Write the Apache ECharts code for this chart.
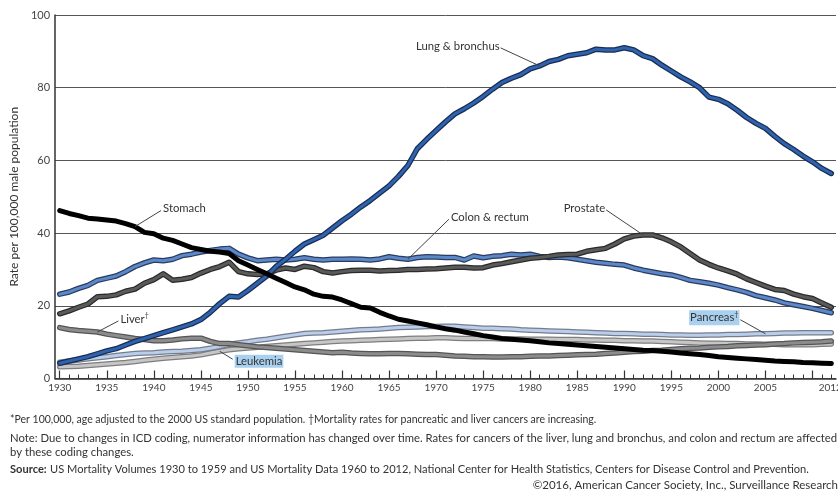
<!DOCTYPE html>
<html><head><meta charset="utf-8">
<script src="https://cdn.jsdelivr.net/npm/echarts@6/dist/echarts.min.js"></script>
<style>html,body{margin:0;padding:0;background:#fff}#c{width:838px;height:494px}</style>
</head><body><div id="c"></div>
<script>
const years = [1930,1931,1932,1933,1934,1935,1936,1937,1938,1939,1940,1941,1942,1943,1944,1945,1946,1947,1948,1949,
1950,1951,1952,1953,1954,1955,1956,1957,1958,1959,1960,1961,1962,1963,1964,1965,1966,1967,1968,1969,
1970,1971,1972,1973,1974,1975,1976,1977,1978,1979,1980,1981,1982,1983,1984,1985,1986,1987,1988,1989,
1990,1991,1992,1993,1994,1995,1996,1997,1998,1999,2000,2001,2002,2003,2004,2005,2006,2007,2008,2009,
2010,2011,2012];

// year labels printed under the axis
const xTickLabels = [1930,1935,1940,1945,1950,1955,1960,1965,1970,1975,1980,1985,1990,1995,2000,2005,2012];
const yTicks = [0, 20, 40, 60, 80, 100];

const lung = [4.2,4.8,5.4,6.0,6.8,7.6,8.2,9.2,10.2,11.0,11.8,12.6,13.4,14.2,15.0,16.2,18.2,20.6,22.6,22.4,
24.2,26.2,28.2,30.8,32.8,35.0,37.0,38.2,39.4,41.4,43.4,45.2,47.2,49.0,51.0,53.0,55.6,58.6,63.2,65.8,
68.2,70.6,72.8,74.2,75.8,77.6,79.6,81.4,82.6,83.6,85.2,86.0,87.2,87.8,88.8,89.2,89.6,90.6,90.4,90.4,
91.0,90.4,88.8,88.0,86.2,84.6,83.0,81.6,80.0,77.4,76.8,75.6,73.8,71.8,70.2,68.8,66.6,64.6,63.0,61.2,
59.6,57.8,56.4];

const stomach = [46.2,45.4,44.8,44.1,43.9,43.6,43.3,42.6,41.8,40.2,39.8,38.6,38.0,37.0,36.0,35.5,35.0,34.8,34.4,32.4,
31.2,30.0,28.8,27.6,26.4,25.2,24.4,23.2,22.6,22.4,21.6,20.6,19.6,19.4,18.2,17.2,16.3,15.8,15.3,14.8,
14.2,13.7,13.3,12.8,12.3,11.8,11.4,11.0,10.8,10.6,10.4,10.1,9.8,9.6,9.4,9.2,9.0,8.8,8.6,8.4,
8.2,8.0,7.8,7.7,7.5,7.3,7.0,6.8,6.6,6.3,6.0,5.8,5.6,5.4,5.2,5.0,4.8,4.7,4.6,4.4,
4.3,4.2,4.1];

const colon = [23.2,23.8,24.8,25.6,27.0,27.6,28.2,29.4,30.8,31.8,32.6,32.4,32.8,33.8,34.2,34.8,35.2,35.6,35.8,34.2,
33.2,32.4,32.6,32.8,32.6,32.8,33.2,32.8,32.6,32.8,32.8,32.9,32.8,32.6,32.9,33.5,33.1,32.8,33.3,33.5,
33.4,33.3,33.3,32.6,33.7,33.2,33.6,33.8,34.2,34.0,34.2,33.6,33.3,33.4,33.2,32.8,32.4,32.0,31.7,31.4,
31.2,30.4,29.8,29.3,28.8,28.5,27.8,27.0,26.6,26.2,25.7,25.0,24.4,23.7,22.8,22.2,21.6,20.8,20.3,19.8,
19.3,18.7,18.1];

const prostate = [17.8,18.6,19.6,20.5,22.5,22.6,23.0,24.0,24.6,26.2,27.2,28.8,27.0,27.3,27.8,29.0,30.0,30.8,32.0,29.4,
28.8,28.6,28.8,29.8,30.4,30.0,30.9,30.5,29.4,29.0,29.4,29.7,29.8,29.8,29.6,29.7,29.8,30.0,30.0,30.1,
30.2,30.4,30.6,30.6,30.4,30.5,31.2,31.6,32.1,32.6,33.1,33.3,33.6,34.0,34.1,34.2,35.0,35.4,35.8,37.0,
38.4,39.2,39.5,39.5,38.7,37.6,36.2,34.4,32.6,31.4,30.4,29.6,28.7,27.4,26.4,25.4,24.5,24.2,23.2,22.5,
22.0,20.8,19.6];

const pancreas = [4.5,4.8,5.1,5.4,5.7,6.0,6.3,6.6,6.9,7.0,7.1,7.3,7.4,7.5,7.7,7.9,8.3,8.8,9.4,9.8,
10.1,10.5,10.8,11.2,11.6,12.0,12.4,12.5,12.6,12.8,13.0,13.2,13.4,13.5,13.6,13.8,14.0,14.1,14.2,14.3,
14.3,14.4,14.4,14.2,14.0,13.8,13.8,13.7,13.6,13.4,13.3,13.2,13.1,13.0,12.9,12.8,12.7,12.6,12.5,12.4,
12.4,12.3,12.2,12.2,12.1,12.0,12.0,11.9,11.9,12.0,12.0,12.1,12.1,12.2,12.3,12.3,12.4,12.5,12.5,12.6,
12.6,12.6,12.6];

const leukemia = [3.2,3.3,3.4,3.6,3.8,4.0,4.2,4.4,4.7,5.0,5.3,5.6,5.8,6.0,6.2,6.5,7.0,7.5,7.9,8.2,
8.4,8.6,8.8,9.0,9.2,9.4,9.6,9.8,10.0,10.2,10.3,10.4,10.5,10.6,10.7,10.8,10.9,11.0,11.1,11.1,
11.2,11.2,11.1,11.0,11.0,11.0,11.0,10.9,10.9,10.9,10.8,10.8,10.8,10.7,10.7,10.7,10.6,10.6,10.5,10.5,
10.4,10.4,10.3,10.3,10.2,10.1,10.0,9.9,9.8,9.7,9.7,9.6,9.6,9.5,9.5,9.4,9.4,9.3,9.3,9.3,
9.3,9.4,9.5];

const liver = [14.0,13.5,13.2,13.0,12.8,12.2,11.8,11.4,11.0,10.7,10.4,10.4,10.6,10.9,11.1,11.1,10.2,9.6,9.6,9.3,
9.0,8.7,8.5,8.3,8.1,7.9,7.7,7.5,7.3,7.1,7.2,7.0,6.9,6.8,6.8,6.9,6.9,6.8,6.7,6.6,
6.6,6.4,6.2,6.1,6.0,6.0,5.9,5.9,6.0,6.0,6.1,6.2,6.2,6.3,6.4,6.5,6.6,6.7,6.9,7.0,
7.2,7.4,7.5,7.7,7.8,8.0,8.2,8.3,8.4,8.6,8.7,8.8,9.0,9.1,9.2,9.3,9.5,9.6,9.8,9.9,
10.0,10.1,10.3];

const FONT = 'Lato, "Open Sans", sans-serif';
const AXFONT = '"Liberation Sans Narrow", Lato, sans-serif';
const TXT = '#333333';

const defs = [
  {name:'Leukemia', data:leukemia, core:'#c6c6c6', edge:'#7e7e7e', w:5.5, cw:3},
  {name:'Pancreas', data:pancreas, core:'#b9cdec', edge:'#767c8a', w:5.5, cw:3},
  {name:'Liver', data:liver, core:'#8c8c8c', edge:'#555555', w:5.5, cw:3},
  {name:'Colon & rectum', data:colon, core:'#5a88c8', edge:'#2b3b5e', w:5.5, cw:3},
  {name:'Prostate', data:prostate, core:'#5a5a5a', edge:'#2a2a2a', w:5.5, cw:3},
  {name:'Lung & bronchus', data:lung, core:'#2e63ae', edge:'#1a2c52', w:5.5, cw:3},
  {name:'Stomach', data:stomach, core:'#000000', edge:null, w:5, cw:5}
];

const series = [];
defs.forEach(d => {
  if (d.edge) series.push({type:'line', name:d.name+'-edge', data:d.data, symbol:'none', silent:true,
    lineStyle:{width:d.w, color:d.edge, join:'round', cap:'round'}});
  series.push({type:'line', name:d.name, data:d.data, symbol:'none', silent:true,
    lineStyle:{width:d.cw, color:d.core, join:'round', cap:'round'}});
});

const lastIdx = years.length - 1;
const lastLabel = xTickLabels[xTickLabels.length - 1];

const chart = echarts.init(document.getElementById('c'), null, {renderer:'canvas'});
chart.setOption({
  animation:false,
  backgroundColor:'#ffffff',
  grid:{left:49.5, right:2, top:15, bottom:115.5},
  xAxis:[{
    type:'category', data:years, boundaryGap:true,
    axisLine:{show:true, lineStyle:{color:'#333', width:1.5}},
    axisTick:{show:true, inside:true, length:8, alignWithLabel:true,
      interval:(i, v) => (Number(v) - years[0]) % 5 === 0,
      lineStyle:{color:'#333', width:1.2}},
    axisLabel:{show:true, margin:4, fontFamily:AXFONT, fontSize:10, color:'#444', hideOverlap:false,
      interval:(i, v) => xTickLabels.indexOf(Number(v)) >= 0 && Number(v) !== lastLabel},
    splitLine:{show:false}
  },{
    type:'category', data:years, boundaryGap:true, position:'bottom', gridIndex:0,
    axisLine:{show:false},
    axisTick:{show:true, inside:true, length:4, alignWithLabel:true, interval:0,
      lineStyle:{color:'#333', width:1}},
    axisLabel:{show:false},
    splitLine:{show:false}
  }],
  yAxis:{
    type:'value', min:yTicks[0], max:yTicks[yTicks.length-1], interval:20,
    name:'Rate per 100,000 male population', nameLocation:'middle', nameGap:30,
    nameTextStyle:{fontFamily:FONT, fontSize:12, color:TXT},
    axisLine:{show:true, lineStyle:{color:'#333', width:1.5}},
    axisTick:{show:false},
    axisLabel:{margin:5, fontFamily:FONT, fontSize:11, color:'#444'},
    splitLine:{show:true, lineStyle:{color:'#555', width:1}}
  },
  series: series
});

const graphics = [];

// final year tick label (drawn at its category position, runs past the canvas edge as in the original)
const endPt = chart.convertToPixel({xAxisIndex:0, yAxisIndex:0}, [years.indexOf(lastLabel), yTicks[0]]);
graphics.push({type:'text', silent:true, x:endPt[0] - 1, y:endPt[1] + 4.5,
  style:{text:String(lastLabel), align:'center', verticalAlign:'top',
    fontFamily:AXFONT, fontSize:10, fill:'#444'}});

// annotations: label anchored to a point on its series
const notes = [
  {rich:'{t|Lung & bronchus}', data:lung, year:1981, dx:-39, dy:-18, align:'right'},
  {rich:'{t|Stomach}', data:stomach, year:1938, dx:26, dy:-16, align:'left'},
  {rich:'{t|Colon & rectum}', data:colon, year:1967, dx:41, dy:-40, align:'left'},
  {rich:'{t|Prostate}', data:prostate, year:1992, dx:-37, dy:-25, align:'right'},
  {rich:'{t|Liver}{s|†}', data:liver, year:1934, dx:21, dy:-11, align:'left'},
  {rich:'{t|Leukemia}', data:leukemia, year:1947, dx:13, dy:8, align:'left', bg:true},
  {rich:'{t|Pancreas}{s|†}', data:pancreas, year:2005, dx:-25, dy:-14, align:'right', bg:true}
];

notes.forEach(n => {
  const idx = years.indexOf(n.year);
  const p = chart.convertToPixel({xAxisIndex:0, yAxisIndex:0}, [idx, n.data[idx]]);
  const ex = p[0] + n.dx, ey = p[1] + n.dy;
  graphics.push({type:'line', silent:true, z:100,
    shape:{x1:p[0], y1:p[1], x2:ex, y2:ey}, style:{stroke:'#444', lineWidth:1}});
  graphics.push({type:'text', silent:true, z:101,
    x: n.align === 'right' ? ex - 1 : ex + 2, y: ey + (n.dy < 0 ? -2 : 2),
    style:{text:n.rich, align:n.align, verticalAlign:'middle',
      backgroundColor: n.bg ? '#a9d0ee' : null, padding: n.bg ? [1,1,1,1] : 0,
      rich:{t:{fontFamily:FONT, fontSize:11.3, fill:TXT},
            s:{fontFamily:FONT, fontSize:7, fill:TXT, padding:[0,0,6,0]}}}});
});

const foot = [
  {y:420, size:10.5, text:'{r|*Per 100,000, age adjusted to the 2000 US standard population. †Mortality rates for pancreatic and liver cancers are increasing.}'},
  {y:438, size:11.3, text:'{r|Note: Due to changes in ICD coding, numerator information has changed over time. Rates for cancers of the liver, lung and bronchus, and colon and rectum are affected}'},
  {y:452, size:11.3, text:'{r|by these coding changes.}'},
  {y:469, size:11.1, text:'{b|Source:} {r|US Mortality Volumes 1930 to 1959 and US Mortality Data 1960 to 2012, National Center for Health Statistics, Centers for Disease Control and Prevention.}'}
];
foot.forEach(f => graphics.push({type:'text', silent:true, x:10, y:f.y,
  style:{text:f.text, verticalAlign:'middle', rich:{
    r:{fontFamily:FONT, fontSize:f.size, fill:TXT},
    b:{fontFamily:FONT, fontSize:f.size, fontWeight:'bold', fill:TXT}}}}));
graphics.push({type:'text', silent:true, x:838, y:485,
  style:{text:'©2016, American Cancer Society, Inc., Surveillance Research', align:'right', verticalAlign:'middle',
    fontFamily:FONT, fontSize:11.5, fill:TXT}});

chart.setOption({graphic:graphics});
</script></body></html>
